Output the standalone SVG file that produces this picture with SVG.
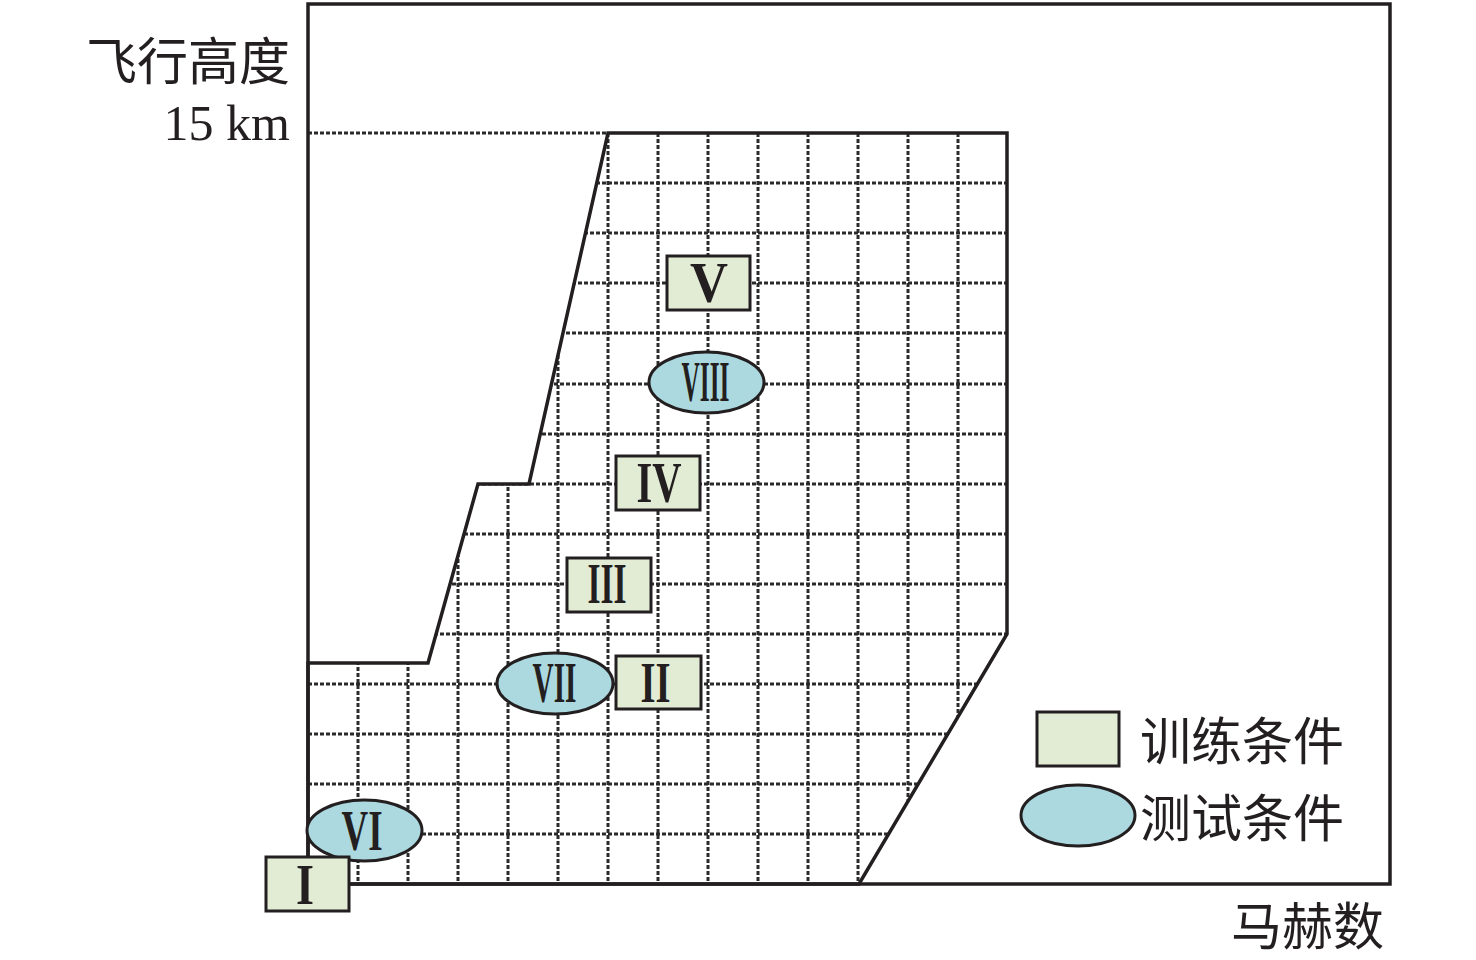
<svg xmlns="http://www.w3.org/2000/svg" width="1476" height="960" viewBox="0 0 1476 960">
<style>
.grid{stroke:#2a2a2a;stroke-width:3;stroke-dasharray:4 2;fill:none}
.solid{stroke:#231f20;stroke-width:3.5;fill:none}
.train{fill:#e2ecd5;stroke:#231f20;stroke-width:3}
.test{fill:#acd8df;stroke:#231f20;stroke-width:3}
.num{font-family:"Liberation Serif","DejaVu Serif",serif;font-size:58px;font-weight:bold;fill:#231f20;text-anchor:middle}
.cjk{font-family:"Noto Sans CJK SC",sans-serif;font-size:51px;fill:#231f20}
.lat{font-family:"Liberation Serif",serif;font-size:50px;fill:#231f20}
</style>
<defs>
<clipPath id="env"><polygon points="608,133 1007,133 1007,634 859,884 308,884 308,663 428,663 478,484 529,484"/></clipPath>
</defs>
<rect x="0" y="0" width="1476" height="960" fill="#ffffff"/>
<g id="grid" clip-path="url(#env)">
<path class="grid" d="M358,133V884M408,133V884M458,133V884M508,133V884M558,133V884M608,133V884M658,133V884M708,133V884M758,133V884M808,133V884M858,133V884M908,133V884M958,133V884"/>
<path class="grid" d="M308,183H1007M308,233H1007M308,283H1007M308,333H1007M308,384H1007M308,434H1007M308,484H1007M308,534H1007M308,584H1007M308,634H1007M308,684H1007M308,734H1007M308,784H1007M308,834H1007"/>
</g>
<g id="connectors">
<line class="grid" x1="308" y1="133" x2="608" y2="133"/>
<polygon class="solid" points="608,133 1007,133 1007,634 859,884 308,884 308,663 428,663 478,484 529,484"/>
<rect class="solid" x="308" y="4" width="1082" height="880"/>
</g>
<g id="axis-labels">
<text class="cjk" x="290" y="80" text-anchor="end">飞行高度</text>
<text class="lat" x="290" y="140" text-anchor="end">15 km</text>
<text class="cjk" x="1384" y="945" text-anchor="end">马赫数</text>
</g>
<g id="node-V"><rect class="train" x="667" y="256" width="83" height="54"/><text class="num" x="709" y="302" textLength="38" lengthAdjust="spacingAndGlyphs">V</text></g>
<g id="node-VIII"><ellipse class="test" cx="706.5" cy="382.5" rx="57.5" ry="30.5"/><text class="num" x="705.5" y="401" textLength="48" lengthAdjust="spacingAndGlyphs">VIII</text></g>
<g id="node-IV"><rect class="train" x="616" y="456" width="84" height="54"/><text class="num" x="659" y="502" textLength="45" lengthAdjust="spacingAndGlyphs">IV</text></g>
<g id="node-III"><rect class="train" x="567" y="558" width="84" height="54"/><text class="num" x="607" y="603" textLength="39" lengthAdjust="spacingAndGlyphs">III</text></g>
<g id="node-VII"><ellipse class="test" cx="555" cy="683.5" rx="58" ry="30.5"/><text class="num" x="554.5" y="702" textLength="44" lengthAdjust="spacingAndGlyphs">VII</text></g>
<g id="node-II"><rect class="train" x="616" y="656" width="85" height="53"/><text class="num" x="655.5" y="702" textLength="30" lengthAdjust="spacingAndGlyphs">II</text></g>
<g id="node-VI"><ellipse class="test" cx="364.5" cy="830.5" rx="57.5" ry="30.5"/><text class="num" x="362" y="850" textLength="41" lengthAdjust="spacingAndGlyphs">VI</text></g>
<g id="node-I"><rect class="train" x="266" y="857" width="83" height="54"/><text class="num" x="305" y="904" textLength="18" lengthAdjust="spacingAndGlyphs">I</text></g>
<g id="legend">
<rect class="train" x="1037" y="712" width="82" height="54"/>
<text class="cjk" x="1140" y="760">训练条件</text>
<ellipse class="test" cx="1078" cy="815.5" rx="57" ry="30.5"/>
<text class="cjk" x="1140" y="837">测试条件</text>
</g>
</svg>
